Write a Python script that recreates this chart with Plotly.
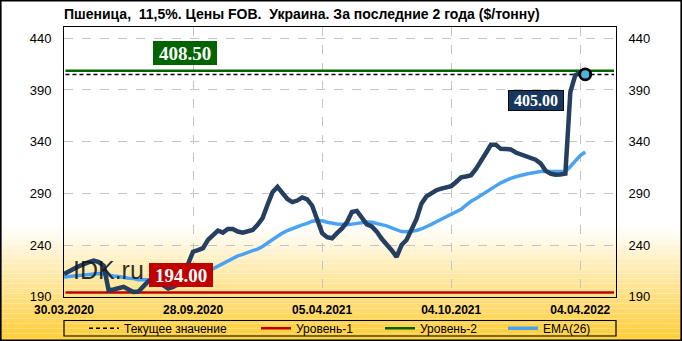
import plotly.graph_objects as go

# ---------------- data ----------------
title_text = "Пшеница,  11,5%. Цены FOB.  Украина. За последние 2 года ($/тонну)"

tick_labels = ["30.03.2020", "28.09.2020", "05.04.2021", "04.10.2021", "04.04.2022"]
tick_weeks = [0, 26, 52, 78, 104]

price = [212, 214, 217, 219.5, 222, 223.5, 225, 223.5, 220, 196,
         197, 198.5, 199.5, 197, 194.5, 195, 200.5, 205, 207, 204,
         200, 198, 199.5, 202, 210, 223, 233.5, 235, 237, 245,
         250, 254, 252, 255.5, 255.5, 253, 252, 253, 254.5, 259.5,
         266, 279, 291, 296.2, 291, 284.5, 281.5, 283, 286, 284.2,
         278, 266, 251.5, 247.5, 246.5, 251.5, 256, 262, 272, 273,
         267, 260, 258, 253, 246, 241, 235, 228.5, 240, 244.8,
         254, 265, 280, 287, 290, 293, 294.5, 296, 297, 301,
         305.5, 306.3, 307.5, 313.5, 320.5, 329, 337, 337, 333, 332.5,
         332.5, 329.5, 327.5, 326, 324, 322.5, 319, 312, 309, 308,
         308.2, 309, 388, 404.4, 406.5, 405]

ema26 = [209, 209.5, 210, 210.8, 211.5, 212.2, 212.6, 212.5, 211.8, 210.5,
         210, 209.5, 208.5, 207.8, 207.5, 206.5, 206.5, 206.5, 207, 207,
         207, 207, 207.5, 208.5, 210, 211.5, 213, 214, 215, 215.5,
         217, 219.5, 222, 225, 227.5, 229.5, 231, 233, 234.5, 236,
         238.5, 242, 245.5, 249, 251.5, 254, 256, 257.5, 259.5, 261,
         263, 263.8, 263.5, 262, 261, 260.3, 260, 259.5, 260.2, 261,
         262, 262.3, 262, 261, 260, 258.5, 256.5, 254.5, 253, 252.8,
         253, 254, 255.5, 257.5, 260, 262.5, 265, 267.5, 269.5, 272,
         274.5, 278.5, 282.3, 285, 288.3, 291.2, 294.5, 297.2, 300.2, 302.5,
         304.5, 306, 307.5, 308.5, 309.5, 310.5, 311, 311, 311, 311,
         311, 311, 316, 321, 326.5, 330]

weeks = list(range(len(price)))

level_1 = 194.00
level_2 = 408.50
current_value = 405.00

y_range = [189.7, 450.9]
y_ticks = [190, 240, 290, 340, 390, 440]
x_range = [0, 111.2]

# ---------------- figure ----------------
fig = go.Figure()

line_x = [x_range[0] + 0.3, x_range[1] - 0.4]

fig.add_trace(go.Scatter(x=line_x, y=[current_value] * 2, mode="lines",
                         name="Текущее значение", legendrank=1, legendwidth=127,
                         line=dict(color="black", width=1.5, dash="4px,3px"),
                         hoverinfo="skip"))
fig.add_trace(go.Scatter(x=line_x, y=[level_1] * 2, mode="lines",
                         name="Уровень-1", legendrank=2, legendwidth=79,
                         line=dict(color="#C00000", width=2.5), hoverinfo="skip"))
fig.add_trace(go.Scatter(x=line_x, y=[level_2] * 2, mode="lines",
                         name="Уровень-2", legendrank=3, legendwidth=78,
                         line=dict(color="#006400", width=2.5), hoverinfo="skip"))
fig.add_trace(go.Scatter(x=weeks, y=ema26, mode="lines", name="EMA(26)", legendrank=4,
                         legendwidth=50,
                         line=dict(color="#4AA3F2", width=3.5)))
fig.add_trace(go.Scatter(x=weeks, y=price, mode="lines", showlegend=False,
                         line=dict(color="#243F60", width=4.5)))
fig.add_trace(go.Scatter(x=[weeks[-1]], y=[price[-1]], mode="markers", showlegend=False,
                         marker=dict(size=11, color="#4FB4DC",
                                     line=dict(color="black", width=2.8))))
# invisible trace for the right-hand axis
fig.add_trace(go.Scatter(x=weeks, y=price, yaxis="y2", mode="lines", showlegend=False,
                         line=dict(color="rgba(0,0,0,0)", width=0), hoverinfo="skip"))

# ---------------- background gradient (white -> yellow) ----------------
L, R, T, B = 64, 66, 27, 44
W, H = 682, 341
pw, ph = W - L - R, H - T - B


def px_to_paper_x(px):
    return (px - L) / pw


def px_to_paper_y(py):
    return (H - B - py) / ph


shapes = []
g_top, g_bot = 226, 341
n = 46
for k in range(n):
    y0 = g_top + (g_bot - g_top) * k / n
    y1 = g_top + (g_bot - g_top) * (k + 1) / n
    t = (k + 0.5) / n
    r = 255
    g = round(255 * (1 - t) + 204 * t)
    b = round(255 * (1 - t) + 51 * t)
    shapes.append(dict(type="rect", xref="paper", yref="paper", layer="below",
                       x0=px_to_paper_x(0), x1=px_to_paper_x(W),
                       y0=px_to_paper_y(y1), y1=px_to_paper_y(y0),
                       fillcolor=f"rgb({r},{g},{b})", line=dict(width=0)))
# legend frame
shapes.append(dict(type="rect", xref="paper", yref="paper",
                   x0=0, x1=1, y0=px_to_paper_y(336), y1=px_to_paper_y(320.5),
                   line=dict(color="black", width=1.2), fillcolor="rgba(0,0,0,0)"))
# outer frame
shapes.append(dict(type="rect", xref="paper", yref="paper",
                   x0=px_to_paper_x(0.8), x1=px_to_paper_x(W - 0.8),
                   y0=px_to_paper_y(H - 0.8), y1=px_to_paper_y(0.8),
                   line=dict(color="black", width=1.6), fillcolor="rgba(0,0,0,0)"))

label_font = "Liberation Serif"
annotations = [
    dict(text=f"{level_2:.2f}", xref="paper", yref="paper",
         x=px_to_paper_x(185), y=px_to_paper_y(53.3), xanchor="center", yanchor="middle",
         showarrow=False,
         font=dict(family=label_font, size=19, color="white", weight="bold"),
         bgcolor="#006400", bordercolor="#006400", borderwidth=1, borderpad=2,
         width=58, height=18),
    dict(text=f"{level_1:.2f}", xref="paper", yref="paper",
         x=px_to_paper_x(180.7), y=px_to_paper_y(275.3), xanchor="center", yanchor="middle",
         showarrow=False,
         font=dict(family=label_font, size=19, color="white", weight="bold"),
         bgcolor="#C00000", bordercolor="#C00000", borderwidth=1, borderpad=2,
         width=58, height=18),
    dict(text=f"{current_value:.2f}", xref="paper", yref="paper",
         x=px_to_paper_x(536), y=px_to_paper_y(100.3), xanchor="center", yanchor="middle",
         showarrow=False,
         font=dict(family=label_font, size=16, color="white", weight="bold"),
         bgcolor="#17375E", bordercolor="#0A0A0A", borderwidth=1, borderpad=2,
         width=50, height=15),
    dict(text="IDK.ru", xref="paper", yref="paper",
         x=px_to_paper_x(71), y=px_to_paper_y(270), xanchor="left", yanchor="middle",
         showarrow=False,
         font=dict(family="Liberation Sans", size=25, color="rgba(20,20,20,0.9)")),
]

fig.update_layout(
    width=W, height=H,
    margin=dict(l=L, r=R, t=T, b=B, autoexpand=False),
    paper_bgcolor="white",
    plot_bgcolor="rgba(0,0,0,0)",
    title=dict(text=title_text, x=0, xref="paper", xanchor="left",
               y=1 - 14.5 / H, yref="container", yanchor="middle",
               font=dict(family="Liberation Sans", size=14, color="black", weight="bold")),
    font=dict(family="Liberation Sans", color="black"),
    shapes=shapes,
    annotations=annotations,
    showlegend=True,
    legend=dict(orientation="h", x=px_to_paper_x(84), xanchor="left",
                y=px_to_paper_y(328.3), yanchor="middle",
                bgcolor="rgba(0,0,0,0)", borderwidth=0,
                entrywidthmode="pixels",
                font=dict(family="Liberation Sans", size=12, color="black"),
                traceorder="normal", itemclick=False),
    xaxis=dict(range=x_range, tickmode="array", tickvals=tick_weeks, ticktext=tick_labels,
               showgrid=True, gridcolor="#C4C4C4", griddash="dash", gridwidth=1,
               showline=True, linecolor="black", linewidth=1, mirror=True,
               ticks="outside", ticklen=2, tickcolor="rgba(0,0,0,0)",
               tickfont=dict(family="Liberation Sans", size=12, color="black", weight="bold"),
               zeroline=False, fixedrange=True),
    yaxis=dict(range=y_range, tickmode="array", tickvals=y_ticks,
               showgrid=True, gridcolor="#C4C4C4", griddash="dash", gridwidth=1,
               showline=True, linecolor="black", linewidth=1, mirror=True,
               ticks="outside", ticklen=9, tickcolor="rgba(0,0,0,0)",
               tickfont=dict(family="Liberation Sans", size=13, color="black"),
               zeroline=False, fixedrange=True),
    yaxis2=dict(range=y_range, tickmode="array", tickvals=y_ticks, overlaying="y",
                side="right", showgrid=False, showline=True, linecolor="black", linewidth=1,
                ticks="outside", ticklen=9, tickcolor="rgba(0,0,0,0)",
                tickfont=dict(family="Liberation Sans", size=13, color="black"),
                zeroline=False, fixedrange=True),
)

fig.write_html("out.html", config={"displayModeBar": False})
